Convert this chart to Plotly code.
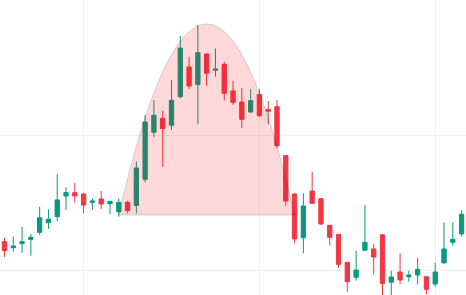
import plotly.graph_objects as go

# candle index (one per session)
idx = list(range(53))

opens = [102.10, 101.65, 101.95, 102.27, 102.79, 103.50, 103.95, 105.48, 105.73, 105.63,
         105.01, 105.26, 104.91, 104.32, 105.01, 104.78, 106.72, 110.20, 111.24, 110.72,
         112.84, 115.04, 113.73, 116.00, 114.79, 115.24, 113.26, 112.44, 111.70, 112.99,
         111.90, 112.10, 108.47, 105.63, 102.39, 105.85, 105.28, 103.31, 102.64, 100.57,
         99.46, 101.46, 101.56, 102.61, 99.09, 99.85, 99.50, 99.63, 99.50, 98.96,
         100.52, 102.05, 102.67]
highs = [102.39, 102.47, 103.21, 102.67, 104.69, 104.50, 107.11, 106.13, 106.47, 105.70,
         105.31, 105.85, 105.11, 105.31, 105.13, 108.04, 111.48, 112.59, 111.78, 114.07,
         117.33, 115.80, 118.15, 116.07, 116.42, 115.43, 114.02, 113.48, 113.41, 113.39,
         112.52, 112.59, 108.52, 105.70, 105.68, 107.28, 105.33, 103.33, 102.67, 100.59,
         101.41, 104.81, 101.93, 102.67, 99.95, 101.24, 99.95, 100.89, 99.56, 100.54,
         103.53, 103.53, 104.44]
lows = [100.96, 101.36, 101.28, 101.06, 102.61, 103.04, 103.63, 104.44, 104.99, 104.20,
        104.44, 104.52, 104.13, 103.95, 104.20, 104.20, 106.50, 109.83, 107.65, 110.37,
        112.72, 113.41, 110.79, 113.63, 114.32, 112.54, 112.24, 110.50, 111.67, 111.36,
        110.79, 109.01, 104.74, 101.98, 101.24, 104.89, 103.33, 101.80, 100.17, 98.35,
        99.21, 101.44, 99.68, 97.93, 98.00, 98.96, 99.13, 98.94, 98.20, 98.76,
        100.50, 101.80, 102.47]
closes = [101.43, 101.78, 102.10, 102.42, 103.87, 103.76, 105.19, 105.73, 105.48, 104.81,
          105.11, 104.89, 105.09, 105.01, 104.41, 107.56, 110.96, 111.46, 110.47, 112.57,
          116.44, 113.63, 116.10, 114.57, 114.89, 113.09, 112.42, 111.16, 112.54, 111.43,
          111.76, 109.21, 105.11, 102.30, 104.74, 104.94, 103.41, 102.42, 100.42, 99.13,
          100.00, 102.05, 100.96, 99.01, 99.48, 99.26, 99.63, 100.05, 98.57, 99.85,
          101.56, 102.27, 104.13]

# cup pattern highlight
cup_start = 13
cup_end = 33
cup_base = 104.07
cup_peak = 118.22

UP = "#089981"
DOWN = "#F23645"

fig = go.Figure()
fig.add_trace(go.Candlestick(
    x=idx, open=opens, high=highs, low=lows, close=closes,
    increasing=dict(line=dict(color=UP, width=1), fillcolor=UP),
    decreasing=dict(line=dict(color=DOWN, width=1), fillcolor=DOWN),
    showlegend=False, hoverinfo="skip",
))

ctrl_x = (cup_start + cup_end) / 2
ctrl_y = cup_base + 2 * (cup_peak - cup_base)
fig.add_shape(
    type="path", xref="x", yref="y", layer="above",
    path=f"M {cup_start},{cup_base} Q {ctrl_x},{ctrl_y} {cup_end},{cup_base} Z",
    fillcolor="rgba(255,0,0,0.15)",
    line=dict(color="rgba(0,0,0,0.15)", width=1),
)

fig.update_layout(
    width=466, height=295,
    margin=dict(l=0, r=0, t=0, b=0),
    paper_bgcolor="white", plot_bgcolor="white",
    showlegend=False,
    xaxis=dict(range=[-0.51, 52.5], tick0=9, dtick=20, showticklabels=False,
               showgrid=True, gridcolor="#f0f0f0", zeroline=False, showline=False,
               rangeslider=dict(visible=False), ticks=""),
    yaxis=dict(range=[98.148, 120], tick0=100, dtick=10, showticklabels=False,
               showgrid=True, gridcolor="#f0f0f0", zeroline=False, showline=False,
               ticks=""),
)

fig.write_html("out.html")
